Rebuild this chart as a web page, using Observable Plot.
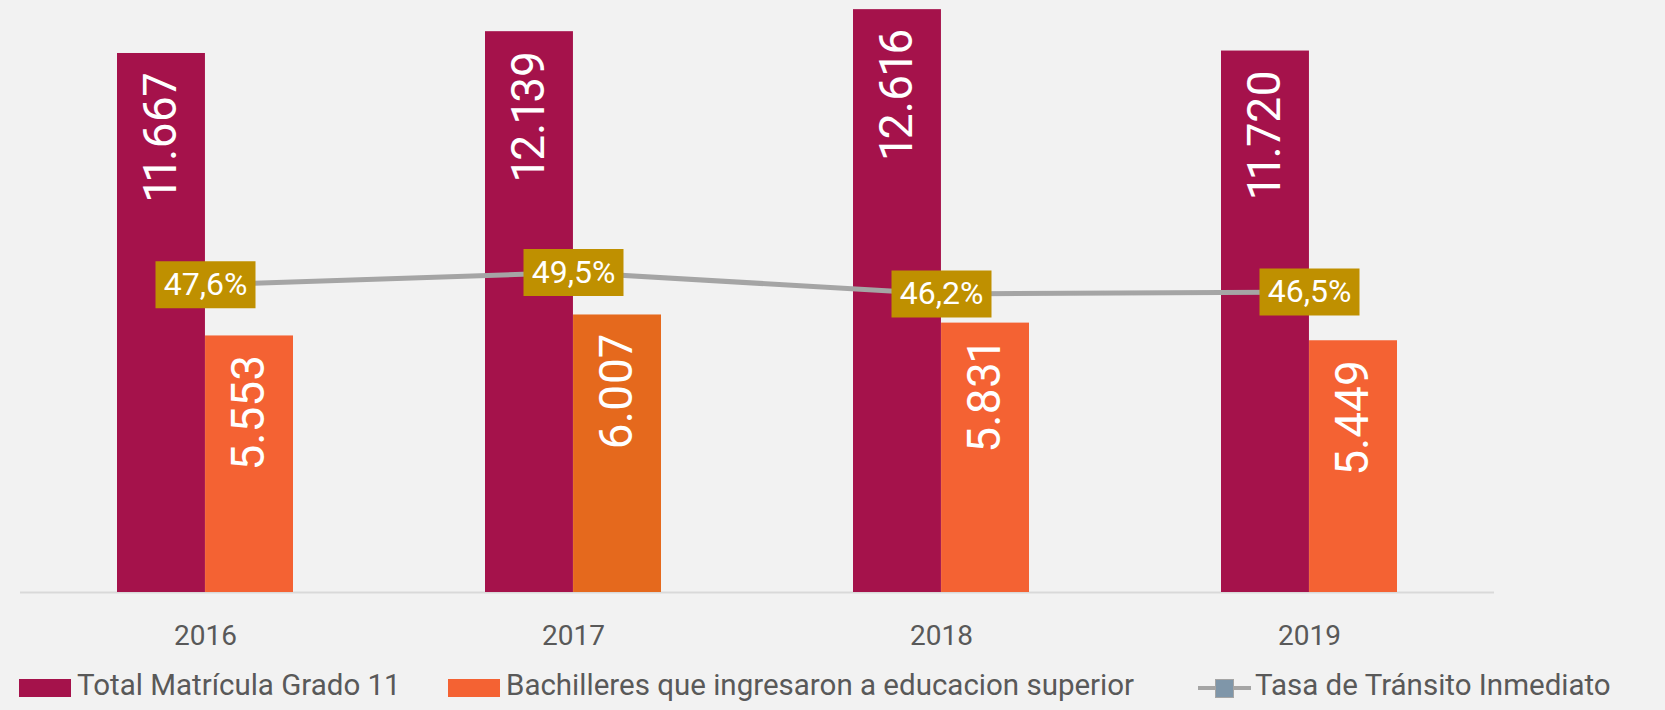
<!DOCTYPE html>
<html>
<head>
<meta charset="utf-8">
<script src="https://cdn.jsdelivr.net/npm/d3@7"></script>
<script src="https://cdn.jsdelivr.net/npm/@observablehq/plot@0.6"></script>
<style>
  html, body { margin: 0; padding: 0; background: #F2F2F2; }
  #chart { width: 1665px; height: 660px; }
  #legend { position: relative; width: 1665px; height: 50px; font-family: Roboto, sans-serif; font-size: 29.5px; color: #595959; }
  .item { position: absolute; top: 0; height: 50px; display: flex; align-items: center; white-space: nowrap; }
  .sw { width: 52px; height: 18px; margin-right: 6px; margin-top: 6px; }
  .lineKey { position: relative; width: 53px; height: 18px; margin-right: 4px; margin-top: 6px; }
  .lineKey .ln { position: absolute; left: 0; right: 0; top: 7px; height: 4px; background: #A5A5A5; }
  .lineKey .mk { position: absolute; left: 17px; top: 0; width: 17px; height: 17px; background: #7F96A9; border: 1px solid #A5A5A5; }
</style>
</head>
<body>
<div id="chart"></div>
<div id="legend"></div>
<script>
// ---- data ----
const years = ["2016", "2017", "2018", "2019"];
const matricula = [11667, 12139, 12616, 11720];
const bachilleres = [5553, 6007, 5831, 5449];
const tasa = [47.6, 49.5, 46.2, 46.5];
const seriesNames = ["Total Matrícula Grado 11", "Bachilleres que ingresaron a educacion superior", "Tasa de Tránsito Inmediato"];

// ---- styles ----
const maroon = "#A5124B";
const orange = "#F46233";
const orangeDark = "#E5691D";
const gold = "#BF9000";
const gray = "#A5A5A5";

const loc = d3.formatLocale({decimal: ",", thousands: ".", grouping: [3], currency: ["$", ""]});
const fmtInt = loc.format(",d");
const fmtPct = v => loc.format(".1f")(v) + "%";

const rows = years.map((year, i) => ({year, matricula: matricula[i], bachilleres: bachilleres[i], tasa: tasa[i]}));

// scales
const W = 1665, H = 660, mL = 20, mR = 171, mT = 0, mB = 68;
const yMax = 12814;        // primary axis top
const rateMax = 91.6;      // secondary (%) axis top
const rateY = d => d.tasa / rateMax * yMax;
const pI = 0.5224, pO = 0.26;
const xs = d3.scaleBand(years, [mL, W - mR]).paddingInner(pI).paddingOuter(pO);
const half = xs.bandwidth() / 2;

const boxSymbol = { draw(ctx) { ctx.rect(-50, -23.5, 100, 47); } };

const chart = Plot.plot({
  width: W, height: H,
  marginLeft: mL, marginRight: mR, marginTop: mT, marginBottom: mB,
  style: { background: "#F2F2F2", fontFamily: "Roboto, sans-serif", fontSize: "28px", color: "#595959", overflow: "visible" },
  x: { type: "band", domain: years, paddingInner: pI, paddingOuter: pO, tickSize: 0, tickPadding: 33, label: null },
  y: { domain: [0, yMax], axis: null },
  marks: [
    Plot.ruleY([0], { stroke: "#D9D9D9", strokeWidth: 2 }),
    Plot.barY(rows, { x: "year", y: "matricula", fill: maroon, insetRight: half, insetLeft: 0 }),
    Plot.barY(rows, { x: "year", y: "bachilleres", fill: d => d.year === "2017" ? orangeDark : orange, insetLeft: half, insetRight: 0 }),
    Plot.text(rows, { x: "year", y: "matricula", text: d => fmtInt(d.matricula), rotate: -90, textAnchor: "end", dx: -half / 2, dy: 19, fill: "white", fontSize: 46, fontVariant: "proportional-nums" }),
    Plot.text(rows, { x: "year", y: "bachilleres", text: d => fmtInt(d.bachilleres), rotate: -90, textAnchor: "end", dx: half / 2, dy: 19, fill: "white", fontSize: 46, fontVariant: "proportional-nums" }),
    Plot.line(rows, { x: "year", y: rateY, stroke: gray, strokeWidth: 5 }),
    Plot.dot(rows, { x: "year", y: rateY, symbol: boxSymbol, fill: gold, stroke: "none", r: 10 }),
    Plot.text(rows, { x: "year", y: rateY, text: d => fmtPct(d.tasa), fill: "white", fontSize: 32 })
  ]
});
document.getElementById("chart").appendChild(chart);

// legend
const legend = document.getElementById("legend");
const legendItems = [
  { name: seriesNames[0], kind: "sw", color: maroon, left: 19 },
  { name: seriesNames[1], kind: "sw", color: orange, left: 448 },
  { name: seriesNames[2], kind: "line", left: 1198 }
];
legendItems.forEach(it => {
  const div = document.createElement("div");
  div.className = "item";
  div.style.left = it.left + "px";
  if (it.kind === "sw") {
    const s = document.createElement("span");
    s.className = "sw"; s.style.background = it.color;
    div.appendChild(s);
  } else {
    const s = document.createElement("span");
    s.className = "lineKey";
    s.innerHTML = '<span class="ln"></span><span class="mk"></span>';
    div.appendChild(s);
  }
  const t = document.createElement("span");
  t.textContent = it.name;
  div.appendChild(t);
  legend.appendChild(div);
});
</script>
</body>
</html>
